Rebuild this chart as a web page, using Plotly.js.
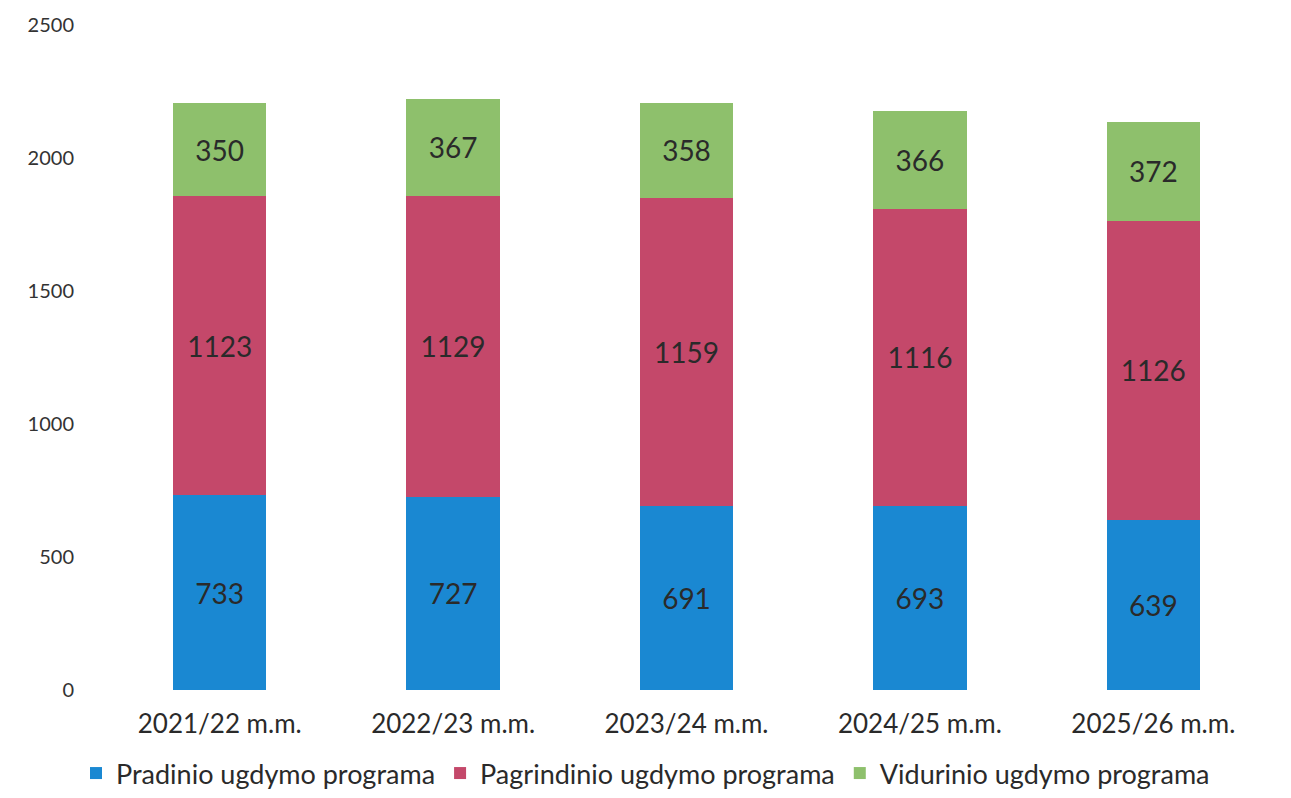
<!DOCTYPE html>
<html>
<head>
<meta charset="utf-8">
<script src="https://cdn.plot.ly/plotly-3.0.1.min.js"></script>
<style>html,body{margin:0;padding:0;background:#fff;}#chart{width:1291px;height:798px;}</style>
</head>
<body>
<div id="chart"></div>
<script>
const categories = ["2021/22 m.m.", "2022/23 m.m.", "2023/24 m.m.", "2024/25 m.m.", "2025/26 m.m."];
const pradinio = [733, 727, 691, 693, 639];
const pagrindinio = [1123, 1129, 1159, 1116, 1126];
const vidurinio = [350, 367, 358, 366, 372];
const seriesNames = ["Pradinio ugdymo programa", "Pagrindinio ugdymo programa", "Vidurinio ugdymo programa"];
const colors = ["#1a88d2", "#c4486a", "#8ec06c"];

const font = "Lato, 'Open Sans', sans-serif";
function mk(vals, i) {
  return {
    type: "bar", x: categories, y: vals, name: seriesNames[i],
    marker: {color: colors[i]},
    text: vals.map(String), textposition: "inside", insidetextanchor: "middle",
    textfont: {family: font, size: 28, color: "#2a2a2a"},
    constraintext: "none", hoverinfo: "y+name"
  };
}
const data = [mk(pradinio, 0), mk(pagrindinio, 1), mk(vidurinio, 2)];
const layout = {
  width: 1291, height: 798,
  barmode: "stack", bargap: 0.6,
  margin: {l: 103, r: 21, t: 25, b: 108, autoexpand: false},
  paper_bgcolor: "#fff", plot_bgcolor: "#fff",
  font: {family: font, color: "#2a2a2a"},
  xaxis: {tickfont: {size: 26, color: "#2a2a2a"}, showline: false, ticks: "", ticklen: 0,
          ticklabelstandoff: 16, automargin: false},
  yaxis: {range: [0, 2500], dtick: 500, tick0: 0, showgrid: false, zeroline: false,
          tickfont: {size: 20, color: "#333"}, ticklabelstandoff: 28, showline: false, automargin: false},
  legend: {orientation: "h", x: 0.5, xref: "container", xanchor: "center",
           y: -0.01, yref: "container", yanchor: "bottom",
           font: {size: 27, color: "#2a2a2a"}, traceorder: "normal", itemwidth: 30},
  showlegend: true
};
Plotly.newPlot("chart", data, layout, {displayModeBar: false});
</script>
</body>
</html>
